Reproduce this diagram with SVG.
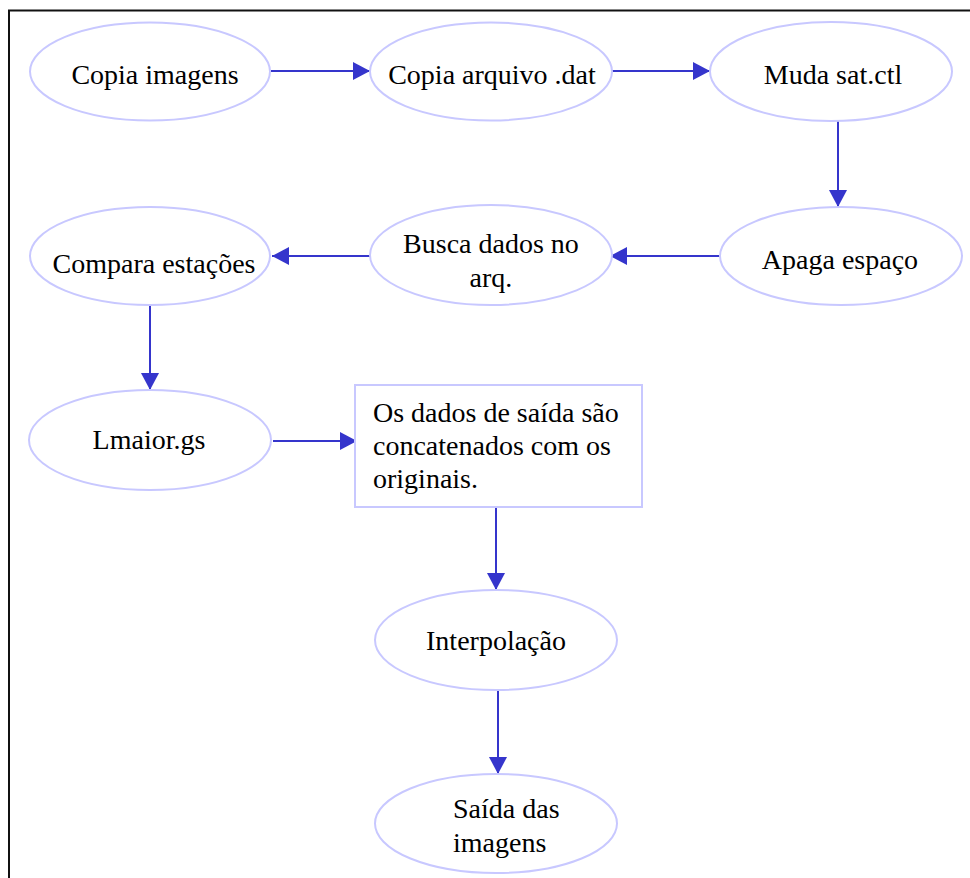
<svg xmlns="http://www.w3.org/2000/svg" width="970" height="878" viewBox="0 0 970 878">
<style>
.n ellipse, .n rect { fill: #ffffff; stroke: #c8c8ff; stroke-width: 2; }
.n text { font-family: "Liberation Serif", "Times New Roman", serif; font-size: 28px; fill: #000000; }
.c line { stroke: #3535cc; stroke-width: 2; marker-end: url(#ah); }
</style>
<defs>
<marker id="ah" markerUnits="userSpaceOnUse" markerWidth="18" markerHeight="20" refX="17" refY="9" orient="auto">
<path d="M0,0 L17,9 L0,18 Z" fill="#3535cc"/>
</marker>
</defs>
<rect width="970" height="878" fill="#ffffff"/>
<g id="frame">
<line x1="8" y1="10.5" x2="970" y2="10.5" stroke="#111111" stroke-width="2"/>
<line x1="9" y1="10" x2="9" y2="878" stroke="#111111" stroke-width="2"/>
</g>
<g class="c" id="connectors">
<line x1="271" y1="71" x2="370" y2="71"/>
<line x1="612" y1="71" x2="710" y2="71"/>
<line x1="838" y1="121" x2="838" y2="207"/>
<line x1="720" y1="256" x2="610" y2="256"/>
<line x1="370" y1="256" x2="272" y2="256"/>
<line x1="150" y1="305" x2="150" y2="390"/>
<line x1="273" y1="441" x2="357" y2="441"/>
<line x1="496" y1="507" x2="496" y2="590"/>
<line x1="498" y1="690" x2="498" y2="774"/>
</g>
<g class="n" id="n1">
<ellipse cx="150" cy="71.5" rx="120" ry="49"/>
<text x="155" y="84" text-anchor="middle">Copia imagens</text>
</g>
<g class="n" id="n2">
<ellipse cx="491" cy="71.5" rx="121" ry="49"/>
<text x="492" y="84" text-anchor="middle">Copia arquivo .dat</text>
</g>
<g class="n" id="n3">
<ellipse cx="831" cy="71.5" rx="121" ry="49.5"/>
<text x="833" y="84" text-anchor="middle">Muda sat.ctl</text>
</g>
<g class="n" id="n4">
<ellipse cx="841" cy="256" rx="121" ry="49"/>
<text x="840" y="269" text-anchor="middle">Apaga espaço</text>
</g>
<g class="n" id="n5">
<ellipse cx="491" cy="255" rx="121" ry="50"/>
<text x="491" y="253" text-anchor="middle">Busca dados no</text>
<text x="491" y="287" text-anchor="middle">arq.</text>
</g>
<g class="n" id="n6">
<ellipse cx="150" cy="256" rx="120" ry="49"/>
<text x="154" y="273" text-anchor="middle">Compara estações</text>
</g>
<g class="n" id="n7">
<ellipse cx="150" cy="440" rx="121" ry="50"/>
<text x="149" y="449" text-anchor="middle">Lmaior.gs</text>
</g>
<g class="n" id="n8">
<rect x="355" y="385" width="287" height="122"/>
<text x="373" y="422">Os dados de saída são</text>
<text x="373" y="455">concatenados com os</text>
<text x="373" y="488">originais.</text>
</g>
<g class="n" id="n9">
<ellipse cx="496" cy="640" rx="121" ry="50"/>
<text x="496" y="650" text-anchor="middle">Interpolação</text>
</g>
<g class="n" id="n10">
<ellipse cx="496" cy="823.5" rx="121" ry="49.5"/>
<text x="453" y="818">Saída das</text>
<text x="453" y="852">imagens</text>
</g>
</svg>
